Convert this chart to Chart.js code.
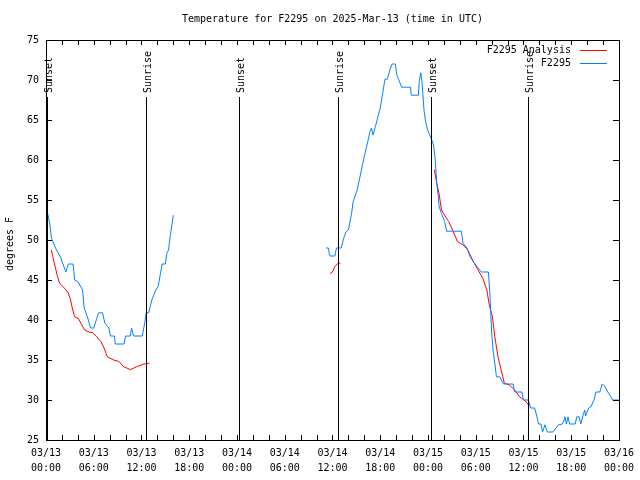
<!DOCTYPE html>
<html>
<head>
<meta charset="utf-8">
<script src="https://cdn.jsdelivr.net/npm/chart.js@4/dist/chart.umd.min.js"></script>
<style>
  body { margin: 0; background: #fff; }
  canvas { display: block; }
</style>
</head>
<body>
<canvas id="tempChart" width="640" height="480"></canvas>
<script>
// hours since 2025-03-13 00:00 UTC, null = gap
const obsHours = [0.1, 0.17, 0.46, 0.7, 1.2, 1.8, 2.5, 2.8, 3.4, 3.6, 4.0, 4.6, 4.8, 5.2, 5.6, 6.0, 6.6, 7.1, 7.4, 7.9,
  8.1, 8.6, 8.7, 9.8, 10.0, 10.6, 10.75, 11.0, 12.1, 12.4, 12.6, 12.9, 13.3, 13.8, 14.1, 14.4, 14.6, 15.0, 15.2, 15.4,
  15.6, 16.0, 25,
  35.2, 35.5, 35.6, 35.7, 36.3, 36.5, 37.1, 37.4, 37.7, 38.0, 38.4, 38.6, 39.1, 39.5, 39.9, 40.3, 40.7, 40.9, 41.1, 41.4,
  41.7, 42.0, 42.3, 42.6, 42.9, 43.2, 43.5, 43.9, 44.1, 44.3, 44.5, 44.7, 45.8, 45.9, 46.8, 46.9, 47.1, 47.25, 47.5,
  47.7, 47.95, 48.4, 48.7, 48.9, 49.1, 49.3, 49.4, 49.7, 50.1, 50.35, 52.2, 52.4, 52.9, 53.3, 53.9, 54.7, 55.6, 55.8,
  56.0, 56.2, 56.4, 56.6, 57.0, 57.5, 58.7, 58.9, 59.8, 60.0, 60.6, 60.9, 61.4, 61.6, 61.9, 62.2, 62.4, 62.7, 63.0,
  63.7, 64.4, 64.9, 65.1, 65.2, 65.4, 65.6, 65.8, 66.5, 66.7, 67.0, 67.2, 67.5, 67.7, 67.8, 68.2, 68.5, 68.9, 69.1,
  69.6, 69.9, 70.2, 70.6, 71.0, 71.2, 72.0];
const obsTemps = [54.0, 53.5, 52.1, 50.2, 49, 47.9, 46.0, 47, 47, 45, 44.8, 43.75, 41.5, 40.4, 39, 39, 40.9, 40.9, 39.6, 39,
  38, 38, 37, 37, 38, 38, 39, 38, 38, 39.6, 40.9, 40.9, 42.5, 43.75, 44.2, 45.9, 47, 47, 48.4, 48.75,
  50.4, 53.1, null,
  49, 49, 48.25, 48, 48, 49, 49, 50.2, 51, 51.25, 53.3, 54.8, 56.25, 58.1, 60, 61.7, 63.5, 64, 63.1, 64.2,
  65.4, 66.5, 68.3, 70.1, 70.1, 71.25, 72, 72, 70.6, 70.1, 69.6, 69.1, 69.1, 68.1, 68.1, 69.8, 70.9, 69.8, 66.25,
  64.8, 63.75, 62.7, 61.9, 60.2, 57.1, 55.4, 54.2, 53.3, 52.3, 51.1, 51.1, 49.6, 49, 47.9, 47, 46, 46, 42.9,
  38.5, 36, 34.6, 32.9, 32.9, 32, 32, 31, 31, 30, 30, 29, 29, 28.3, 27, 27, 26, 26.9, 26,
  26, 26.9, 27, 27.5, 27.9, 27, 27.9, 27, 27, 27.9, 27.9, 27, 28.1, 28.75, 28, 29, 29.2, 30.1, 31,
  31, 32, 31.75, 31, 30.4, 30, 30];

const anaHours = [0.67, 1.0, 1.4, 1.7, 2.3, 2.8, 3.1, 3.3, 3.6, 4.05, 4.5, 4.8, 5.4, 5.9, 6.4, 6.9, 7.3, 7.7, 8.5, 9.2,
  9.7, 10.6, 11.5, 12.3, 13.0, 25,
  35.7, 36.0, 36.3, 36.7, 37.0, 42,
  48.8, 49.1, 49.4, 49.7, 50.6, 51.2, 51.7, 52.4, 53.0, 53.7, 54.3, 54.9, 55.4, 55.7, 56.1, 56.4, 56.8, 57.2, 57.6,
  58.2, 58.9, 59.5, 60.2, 60.8];
const anaTemps = [48.75, 47.3, 45.6, 44.6, 44.0, 43.4, 42.5, 41.5, 40.4, 40.2, 39.4, 38.8, 38.5, 38.4, 37.9, 37.3, 36.5, 35.4, 35.0, 34.8,
  34.2, 33.8, 34.2, 34.5, 34.6, null,
  45.8, 46.0, 46.7, 47.1, 47.1, null,
  58.8, 57.1, 55.8, 53.75, 52.3, 51.0, 49.8, 49.4, 48.75, 47.3, 46.25, 45.2, 43.75, 41.9, 40.4, 37.9, 35.4, 33.75, 32.1,
  31.9, 31.25, 30.4, 29.9, 29.2];

const sunHours = [0.15, 12.6, 24.2, 36.7, 48.35, 60.6];
const sunLabels = ['Sunset', 'Sunrise', 'Sunset', 'Sunrise', 'Sunset', 'Sunrise'];

const tickDays = ['03/13', '03/13', '03/13', '03/13', '03/14', '03/14', '03/14', '03/14', '03/15', '03/15', '03/15', '03/15', '03/16'];
const tickTimes = ['00:00', '06:00', '12:00', '18:00', '00:00', '06:00', '12:00', '18:00', '00:00', '06:00', '12:00', '18:00', '00:00'];

const seriesNames = ['F2295 Analysis', 'F2295'];
const seriesColors = ['#ff0000', '#0080ff'];
const titleText = 'Temperature for F2295 on 2025-Mar-13 (time in UTC)';
const yTitle = 'degrees F';

const FONT = '10px "DejaVu Sans Mono", "Liberation Mono", monospace';

function pairs(xs, ys) {
  return xs.map((x, i) => ({ x: x, y: ys[i] }));
}

const gnuplotFrame = {
  id: 'gnuplotFrame',
  afterDatasetsDraw(chart) {
    const ctx = chart.ctx;
    const a = chart.chartArea;
    const xs = chart.scales.x;
    const ys = chart.scales.y;
    ctx.save();
    ctx.strokeStyle = '#000';
    ctx.lineWidth = 1;

    // sunrise / sunset markers
    ctx.font = FONT;
    ctx.fillStyle = '#000';
    sunHours.forEach((h, i) => {
      const px = Math.round(xs.getPixelForValue(h)) + 0.5;
      ctx.beginPath();
      ctx.moveTo(px, a.top + 57);
      ctx.lineTo(px, a.bottom);
      ctx.stroke();
      ctx.save();
      ctx.translate(px + 1.5, a.top + 53);
      ctx.rotate(-Math.PI / 2);
      ctx.textAlign = 'left';
      ctx.textBaseline = 'middle';
      ctx.fillText(sunLabels[i], 0, 0);
      ctx.restore();
    });

    // border
    ctx.strokeRect(Math.round(a.left) + 0.5, Math.round(a.top) + 0.5,
      Math.round(a.right - a.left), Math.round(a.bottom - a.top));

    // inward ticks
    ctx.beginPath();
    xs.ticks.forEach(t => {
      const px = Math.round(xs.getPixelForValue(t.value)) + 0.5;
      ctx.moveTo(px, a.bottom); ctx.lineTo(px, a.bottom - 5);
      ctx.moveTo(px, a.top); ctx.lineTo(px, a.top + 5);
    });
    ys.ticks.forEach(t => {
      const py = Math.round(ys.getPixelForValue(t.value)) + 0.5;
      ctx.moveTo(a.left, py); ctx.lineTo(a.left + 6, py);
      ctx.moveTo(a.right, py); ctx.lineTo(a.right - 6, py);
    });
    ctx.stroke();

    // legend
    ctx.textAlign = 'right';
    ctx.textBaseline = 'middle';
    seriesNames.forEach((name, i) => {
      const ly = a.top + 10 + i * 13;
      ctx.fillStyle = '#000';
      ctx.fillText(name, a.right - 48, ly);
      ctx.strokeStyle = seriesColors[i];
      ctx.beginPath();
      ctx.moveTo(a.right - 39, ly + 0.5);
      ctx.lineTo(a.right - 12, ly + 0.5);
      ctx.stroke();
    });

    // titles
    ctx.fillStyle = '#000';
    ctx.textAlign = 'center';
    ctx.fillText(titleText, (a.left + a.right) / 2, 19);
    ctx.save();
    ctx.translate(10, 244);
    ctx.rotate(-Math.PI / 2);
    ctx.fillText(yTitle, 0, 0);
    ctx.restore();
    ctx.restore();
  }
};

Chart.defaults.font.family = '"DejaVu Sans Mono", "Liberation Mono", monospace';
Chart.defaults.font.size = 10;
Chart.defaults.color = '#000';

new Chart(document.getElementById('tempChart'), {
  type: 'line',
  data: {
    datasets: [
      {
        label: seriesNames[1],
        data: pairs(obsHours, obsTemps),
        borderColor: seriesColors[1],
        borderWidth: 1,
        pointRadius: 0,
        tension: 0,
        spanGaps: false,
      },
      {
        label: seriesNames[0],
        data: pairs(anaHours, anaTemps),
        borderColor: seriesColors[0],
        borderWidth: 1,
        pointRadius: 0,
        tension: 0,
        spanGaps: false,
      },
    ],
  },
  options: {
    responsive: false,
    animation: false,
    layout: { padding: { top: 40, right: 19, left: 0, bottom: 0 } },
    plugins: { legend: { display: false }, tooltip: { enabled: false } },
    scales: {
      x: {
        type: 'linear',
        min: 0,
        max: 72,
        grid: { display: false, drawTicks: false },
        border: { display: false },
        ticks: {
          stepSize: 2,
          autoSkip: false,
          maxRotation: 0,
          padding: 6,
          font: { lineHeight: 1.5 },
          callback: (v) => (v % 6 === 0 ? [tickDays[v / 6], tickTimes[v / 6]] : ''),
        },
        afterFit: (s) => { s.height = 40; },
      },
      y: {
        min: 25,
        max: 75,
        grid: { display: false, drawTicks: false },
        border: { display: false },
        ticks: { stepSize: 5, padding: 7 },
        afterFit: (s) => { s.width = 46; },
      },
    },
  },
  plugins: [gnuplotFrame],
});
</script>
</body>
</html>
